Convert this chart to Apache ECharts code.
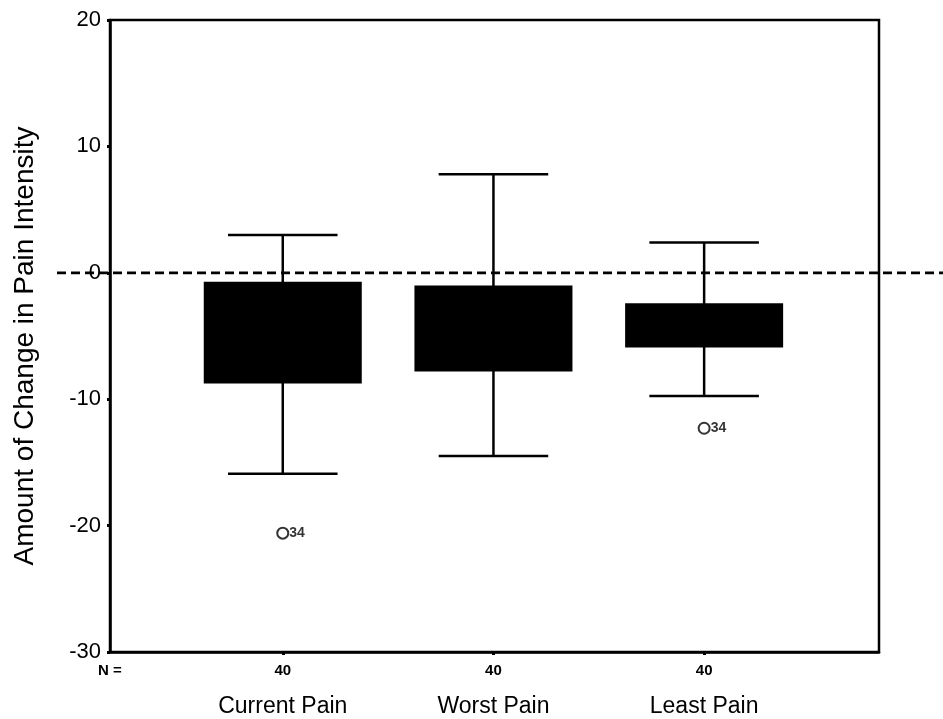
<!DOCTYPE html>
<html>
<head>
<meta charset="utf-8">
<script src="https://cdn.jsdelivr.net/npm/echarts@6/dist/echarts.min.js"></script>
<style>html,body{margin:0;padding:0;background:#fff;}#c{width:943px;height:719px;}</style>
</head>
<body>
<div id="c"></div>
<script>
// ---- data ----
const categories = ['Current Pain', 'Worst Pain', 'Least Pain'];
const positions = [1, 2, 3];
const nCounts = [40, 40, 40];
const whiskerLow = [-15.9, -14.5, -9.75];
const q1 = [-8.75, -7.8, -5.9];
const q3 = [-0.7, -1.0, -2.4];
const whiskerHigh = [3.0, 7.8, 2.4];
const outlierPos = [1, 3];
const outlierVal = [-20.6, -12.3];
const outlierLabel = ['34', '34'];
const yTicks = [-30, -20, -10, 0, 10, 20];
const refLineValue = 0;
const nLabel = 'N =';

// ---- build ----
const boxData = positions.map((p, i) => [p, whiskerLow[i], q1[i], q3[i], whiskerHigh[i]]);
const outlierData = outlierPos.map((p, i) => ({ value: [p, outlierVal[i]], name: outlierLabel[i] }));
const xMin = 0.18, xMax = 3.83;
const boxHalf = 0.375, capHalf = 0.26;
const FONT = 'Liberation Sans, Arial, sans-serif';

const chart = echarts.init(document.getElementById('c'), null, { renderer: 'canvas' });

function renderBox(params, api) {
  const x = api.value(0);
  const lo = api.coord([x, api.value(1)]);
  const b1 = api.coord([x, api.value(2)]);
  const b3 = api.coord([x, api.value(3)]);
  const hi = api.coord([x, api.value(4)]);
  const bw = api.size([boxHalf, 0])[0];
  const cw = api.size([capHalf, 0])[0];
  const ls = { stroke: '#000', lineWidth: 2.5 };
  return {
    type: 'group',
    children: [
      { type: 'line', shape: { x1: hi[0], y1: hi[1], x2: lo[0], y2: lo[1] }, style: ls },
      { type: 'line', shape: { x1: hi[0] - cw, y1: hi[1], x2: hi[0] + cw, y2: hi[1] }, style: ls },
      { type: 'line', shape: { x1: lo[0] - cw, y1: lo[1], x2: lo[0] + cw, y2: lo[1] }, style: ls },
      { type: 'rect', shape: { x: b3[0] - bw, y: b3[1], width: 2 * bw, height: b1[1] - b3[1] }, style: { fill: '#000' } }
    ]
  };
}

const option = {
  backgroundColor: '#fff',
  animation: false,
  grid: [
    { left: 110, right: 64, top: 20, bottom: 67, show: true, borderColor: '#000', borderWidth: 2.5, backgroundColor: 'transparent' },
    { left: 57, right: 0, top: 20, bottom: 67, show: false }
  ],
  xAxis: [
    {
      gridIndex: 0, type: 'value', min: xMin, max: xMax,
      splitLine: { show: false },
      axisLine: { show: true, onZero: false, lineStyle: { color: '#000', width: 2.5 } },
      axisTick: { show: true, customValues: positions, length: 3, lineStyle: { color: '#000', width: 3 } },
      axisLabel: {
        show: true,
        customValues: [xMin].concat(positions),
        margin: 8,
        formatter: function (v) {
          const i = positions.indexOf(Math.round(v * 100) / 100);
          if (i < 0) return '{n|' + nLabel + '}';
          return '{n|' + nCounts[i] + '}\n{c|' + categories[i] + '}';
        },
        rich: {
          n: { fontFamily: FONT, fontSize: 15, fontWeight: 'bold', color: '#000', lineHeight: 22 },
          c: { fontFamily: FONT, fontSize: 23, fontWeight: 'normal', color: '#000', lineHeight: 50 }
        }
      }
    },
    { gridIndex: 1, type: 'value', min: 0, max: 1, show: false, axisLine: { onZero: false } }
  ],
  yAxis: [
    {
      gridIndex: 0, type: 'value', min: yTicks[0], max: yTicks[yTicks.length - 1], interval: 10,
      splitLine: { show: false },
      axisLine: { show: true, onZero: false, lineStyle: { color: '#000', width: 2.5 } },
      axisTick: { show: true, length: 3, lineStyle: { color: '#000', width: 3 } },
      axisLabel: { fontFamily: FONT, fontSize: 22, color: '#000', margin: 9 },
      name: 'Amount of Change in Pain Intensity',
      nameLocation: 'middle', nameRotate: 90, nameGap: 71,
      nameTextStyle: { fontFamily: FONT, fontSize: 28, color: '#000', padding: [0, 20, 0, 0] }
    },
    { gridIndex: 1, type: 'value', min: yTicks[0], max: yTicks[yTicks.length - 1], show: false, axisLine: { onZero: false } }
  ],
  series: [
    {
      type: 'line', xAxisIndex: 1, yAxisIndex: 1, z: 1,
      data: [[0, refLineValue], [1, refLineValue]],
      symbol: 'none', silent: true,
      lineStyle: { color: '#000', width: 2.8, type: [9, 5] }
    },
    {
      type: 'custom', xAxisIndex: 0, yAxisIndex: 0, z: 2,
      renderItem: renderBox,
      data: boxData,
      encode: { x: 0, y: [1, 2, 3, 4] }
    },
    {
      type: 'scatter', xAxisIndex: 0, yAxisIndex: 0, z: 3,
      data: outlierData,
      symbol: 'circle', symbolSize: 11,
      itemStyle: { color: '#fff', borderColor: '#000', borderWidth: 2 },
      label: {
        show: true, position: 'right', distance: 0,
        formatter: function (p) { return p.name; },
        fontFamily: FONT, fontSize: 14, fontWeight: 'bold', color: '#000'
      }
    }
  ]
};
chart.setOption(option);
</script>
</body>
</html>
